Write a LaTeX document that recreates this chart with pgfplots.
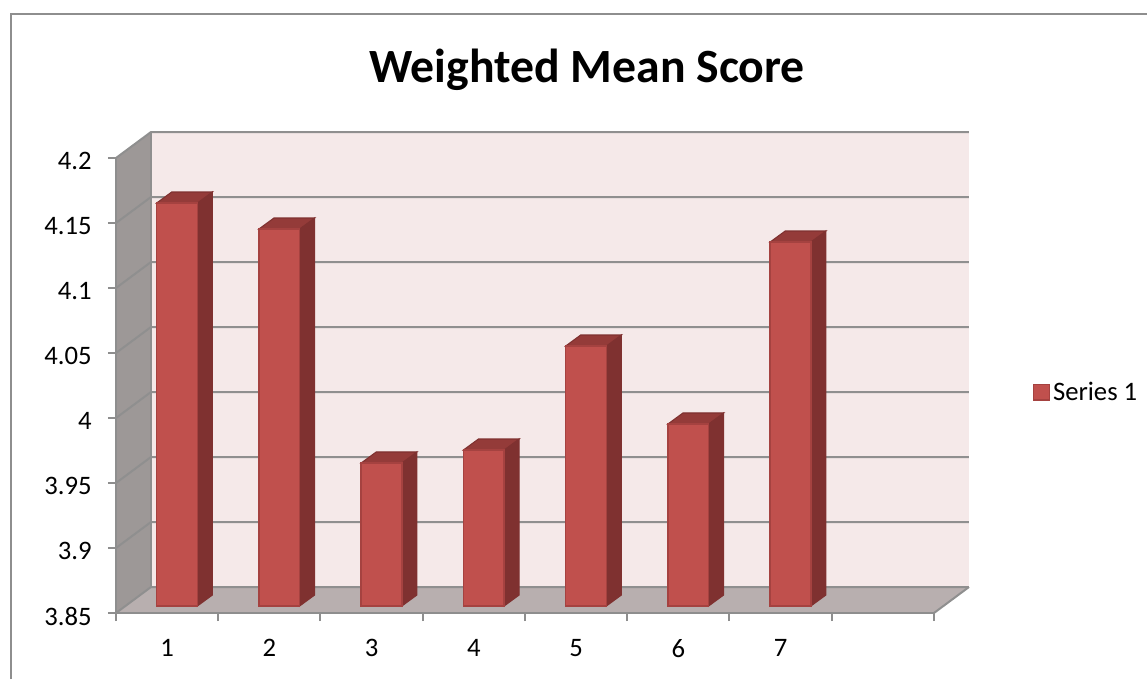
\documentclass[border=0pt]{standalone}
\usepackage{fontspec}
\setmainfont{Carlito}
\usepackage{pgfplots}
\pgfplotsset{compat=1.18}

\definecolor{wallback}{HTML}{F5E9E9}
\definecolor{wallleft}{HTML}{9D9897}
\definecolor{wallfloor}{HTML}{B8AFAF}
\definecolor{axisgray}{HTML}{8E8E8E}
\definecolor{gridgray}{HTML}{8F8F8F}
\definecolor{barfront}{HTML}{C0504D}
\definecolor{baredge}{HTML}{A54240}
\definecolor{barside}{HTML}{7F3130}
\definecolor{bartop}{HTML}{943B39}

% one 3D bar: category, value
% x/y offsets are the chart's depth, in data units
\newcommand{\threedbar}[2]{%
  \pgfmathsetmacro{\xa}{#1-1+0.398}%
  \pgfmathsetmacro{\xb}{\xa+0.398}%
  \pgfmathsetmacro{\xc}{\xb+0.1467}%
  \pgfmathsetmacro{\xd}{\xa+0.1467}%
  \pgfmathsetmacro{\ya}{3.85538}%
  \pgfmathsetmacro{\yb}{#2+0.00538}%
  \pgfmathsetmacro{\yc}{\ya+0.00846}%
  \pgfmathsetmacro{\yd}{\yb+0.00846}%
  \edef\temp{%
    \noexpand\addplot[fill=barside,draw=barside,line width=0.8pt,forget plot] coordinates {(\xb,\ya)(\xc,\yc)(\xc,\yd)(\xb,\yb)} --cycle;
    \noexpand\addplot[fill=bartop,draw=barside,line width=0.8pt,forget plot] coordinates {(\xa,\yb)(\xb,\yb)(\xc,\yd)(\xd,\yd)} --cycle;
    \noexpand\addplot[fill=barfront,draw=baredge,line width=1.1pt,forget plot] coordinates {(\xa,\ya)(\xb,\ya)(\xb,\yb)(\xa,\yb)} --cycle;
  }\temp
}

\begin{document}
\begin{tikzpicture}
  \path[use as bounding box] (-87pt,-49.5pt) rectangle (773.25pt,459.75pt);
  \draw[axisgray,line width=1.6pt] (-78.75pt,-49.5pt) -- (-78.75pt,449.25pt) -- (773.25pt,449.25pt);
  \begin{axis}[
      scale only axis,
      width=613.5pt, height=341.25pt,
      at={(0pt,0pt)}, anchor=south west,
      xmin=0, xmax=8,
      ymin=3.85, ymax=4.2,
      clip=false,
      axis on top,
      axis x line=bottom,
      axis y line=left,
      x axis line style={-,draw=axisgray,line width=2pt},
      y axis line style={-,draw=axisgray,line width=1.5pt},
      tick style={draw=axisgray,line width=1.5pt},
      major tick length=6pt,
      tick align=outside,
      xtick={0,1,...,8},
      xticklabels={},
      extra x ticks={0.5,1.5,2.5,3.5,4.5,5.5,6.5},
      extra x tick labels={1,2,3,4,5,6,7},
      extra x tick style={major tick length=0pt,
        tick label style={yshift=-16pt}},
      ytick={3.85,3.9,3.95,4,4.05,4.1,4.15,4.2},
      yticklabels={3.85,3.9,3.95,4,4.05,4.1,4.15,4.2},
      ticklabel style={font=\fontsize{20}{22}\selectfont},
      yticklabel style={xshift=-8.7pt,yshift=-2.5pt},
      /pgf/number format/assume math mode=true,
      title={Weighted Mean Score},
      title style={at={(0.576,1)},anchor=center,yshift=60pt,
        font=\fontsize{35.8}{38}\selectfont\bfseries},
      legend style={at={(axis cs:8.965,4.02)},anchor=west,draw=none,fill=none,
        font=\fontsize{20}{22}\selectfont,
        inner sep=0pt},
    ]
    % walls
    \addplot[fill=wallback,draw=none,forget plot] coordinates {(0.3423,3.87)(8.3423,3.87)(8.3423,4.22)(0.3423,4.22)} --cycle;
    \addplot[fill=wallleft,draw=none,forget plot] coordinates {(0,3.85)(0.3423,3.87)(0.3423,4.22)(0,4.2)} --cycle;
    \addplot[fill=wallfloor,draw=none,forget plot] coordinates {(0,3.85)(0.3423,3.87)(8.3423,3.87)(8,3.85)} --cycle;
    % gridlines, back wall and left wall
    \addplot[gridgray,line width=1.5pt,forget plot] coordinates {(8.3423,3.87)(0.3423,3.87)(0,3.85)};
    \addplot[gridgray,line width=1.5pt,forget plot] coordinates {(8.3423,3.92)(0.3423,3.92)(0,3.9)};
    \addplot[gridgray,line width=1.5pt,forget plot] coordinates {(8.3423,3.97)(0.3423,3.97)(0,3.95)};
    \addplot[gridgray,line width=1.5pt,forget plot] coordinates {(8.3423,4.02)(0.3423,4.02)(0,4)};
    \addplot[gridgray,line width=1.5pt,forget plot] coordinates {(8.3423,4.07)(0.3423,4.07)(0,4.05)};
    \addplot[gridgray,line width=1.5pt,forget plot] coordinates {(8.3423,4.12)(0.3423,4.12)(0,4.1)};
    \addplot[gridgray,line width=1.5pt,forget plot] coordinates {(8.3423,4.17)(0.3423,4.17)(0,4.15)};
    \addplot[gridgray,line width=1.5pt,forget plot] coordinates {(8.3423,4.22)(0.3423,4.22)(0,4.2)};
    \addplot[gridgray,line width=1.5pt,forget plot] coordinates {(0.3423,3.87)(0.3423,4.22)};
    \addplot[gridgray,line width=1.5pt,forget plot] coordinates {(8,3.85)(8.3423,3.87)};
    % bars
    \threedbar{1}{4.16}
    \threedbar{2}{4.14}
    \threedbar{3}{3.96}
    \threedbar{4}{3.97}
    \threedbar{5}{4.05}
    \threedbar{6}{3.99}
    \threedbar{7}{4.13}
    \addlegendimage{legend image code/.code={
        \draw[fill=barfront,draw=baredge,line width=1.1pt] (-2pt,-6pt) rectangle (10pt,5.5pt);
      }}
    \addlegendentry{Series 1}
  \end{axis}
\end{tikzpicture}
\end{document}
